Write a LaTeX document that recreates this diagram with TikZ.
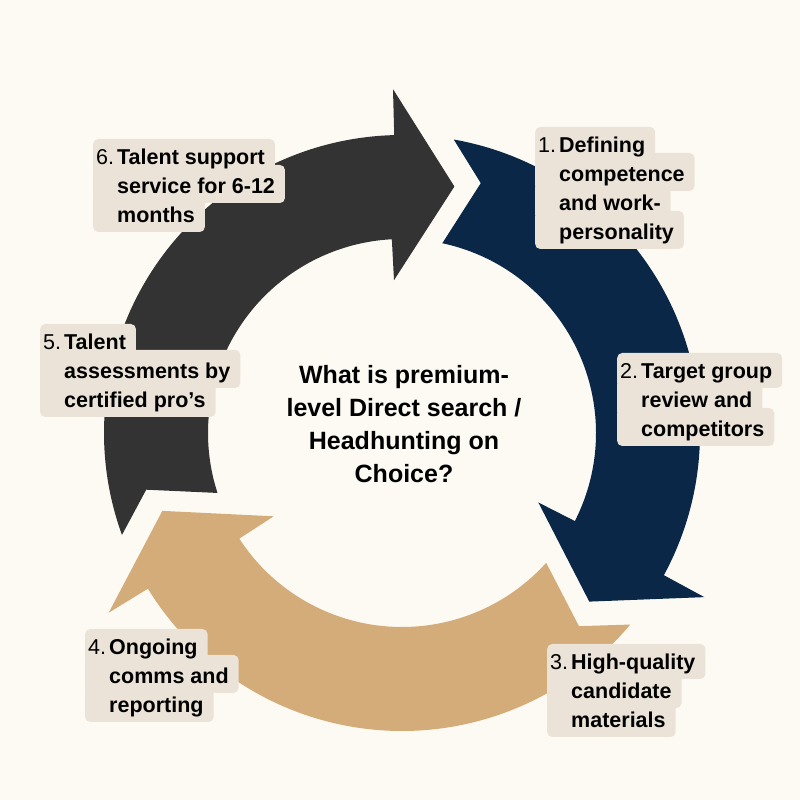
\documentclass[tikz,border=0pt]{standalone}
\usepackage{fontspec}
\setmainfont{Liberation Sans}
\usetikzlibrary{positioning}
\definecolor{bgcream}{HTML}{FDFAF3}
\definecolor{navyblue}{HTML}{0B2747}
\definecolor{charcoal}{HTML}{333333}
\definecolor{sandtan}{HTML}{D4AC79}
\definecolor{boxfill}{HTML}{EBE3D7}
\tikzstyle{lblline} = [fill=boxfill, rounded corners=5pt, anchor=base west, inner sep=0pt, text height=29pt, text depth=9pt, font=\fontsize{21.5}{29}\selectfont\bfseries, execute at begin node=\hspace*{24pt}, execute at end node=\hspace*{10pt}]
\tikzstyle{firstline} = [lblline, text height=26pt]
\tikzstyle{num} = [anchor=base west, inner sep=0pt, font=\fontsize{21.5}{29}\selectfont]
\tikzstyle{question} = [align=center, inner sep=0pt, font=\fontsize{25}{33}\selectfont\bfseries]

\begin{document}
\begin{tikzpicture}[x=1pt, y=1pt]

\useasboundingbox (0,0) rectangle (800,800);
\fill[bgcream] (0,0) rectangle (800,800);

% ring of three arrows, clockwise
\begin{scope}[shift={(402,367)}]
\fill[navyblue] (80:298) arc[start angle=80, end angle=-28.5, radius=298] -- (-28.5:344) -- (-42:252) -- (-27:153) -- (-27:194) arc[start angle=-27, end angle=78, radius=194] -- (72.5:262) -- cycle;
\fill[sandtan] (-40:298) arc[start angle=-40, end angle=-148.5, radius=298] -- (-148.5:344) -- (-162:252) -- (-147:153) -- (-147:194) arc[start angle=-147, end angle=-42, radius=194] -- (-47.5:262) -- cycle;
\fill[charcoal] (200:298) arc[start angle=200, end angle=91.5, radius=298] -- (91.5:344) -- (78:252) -- (93:153) -- (93:194) arc[start angle=93, end angle=198, radius=194] -- (192.5:262) -- cycle;
\end{scope}

\node (q) [question] at (404,376) {What is premium-\\level Direct search /\\Headhunting on\\Choice?};

% labels, lines drawn from the bottom up
\node (t1d) [lblline] at (535,560) {personality};
\node (t1c) [lblline] at ([yshift=29pt]t1d.base west) {and work-};
\node (t1b) [lblline] at ([yshift=29pt]t1c.base west) {competence};
\node (t1a) [firstline] at ([yshift=29pt]t1b.base west) {Defining};
\node (n1) [num] at ([xshift=3pt]t1a.base west) {1.};

\node (t2c) [lblline] at (617,363) {competitors};
\node (t2b) [lblline] at ([yshift=29pt]t2c.base west) {review and};
\node (t2a) [firstline] at ([yshift=29pt]t2b.base west) {Target group};
\node (n2) [num] at ([xshift=3pt]t2a.base west) {2.};

\node (t3c) [lblline] at (547,72) {materials};
\node (t3b) [lblline] at ([yshift=29pt]t3c.base west) {candidate};
\node (t3a) [firstline] at ([yshift=29pt]t3b.base west) {High-quality};
\node (n3) [num] at ([xshift=3pt]t3a.base west) {3.};

\node (t4c) [lblline] at (85,87) {reporting};
\node (t4b) [lblline] at ([yshift=29pt]t4c.base west) {comms and};
\node (t4a) [firstline] at ([yshift=29pt]t4b.base west) {Ongoing};
\node (n4) [num] at ([xshift=3pt]t4a.base west) {4.};

\node (t5c) [lblline] at (40,392) {certified pro’s};
\node (t5b) [lblline] at ([yshift=29pt]t5c.base west) {assessments by};
\node (t5a) [firstline] at ([yshift=29pt]t5b.base west) {Talent};
\node (n5) [num] at ([xshift=3pt]t5a.base west) {5.};

\node (t6c) [lblline] at (93,577) {months};
\node (t6b) [lblline] at ([yshift=29pt]t6c.base west) {service for 6-12};
\node (t6a) [firstline] at ([yshift=29pt]t6b.base west) {Talent support};
\node (n6) [num] at ([xshift=3pt]t6a.base west) {6.};

\end{tikzpicture}
\end{document}
